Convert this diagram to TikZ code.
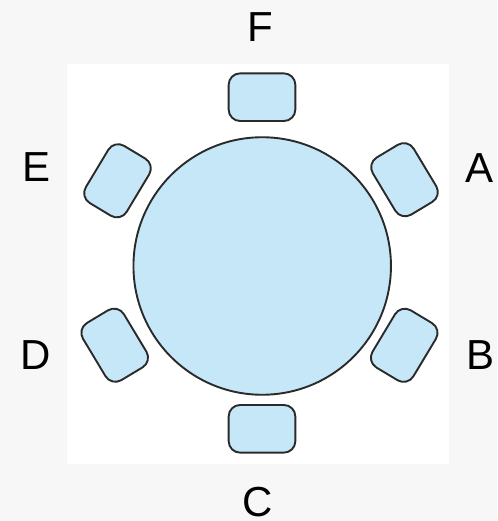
\documentclass[tikz,border=0pt]{standalone}
\usepackage{fontspec}
\setmainfont{Liberation Sans}
\definecolor{bgcol}{HTML}{F7F7F7}
\definecolor{seatfill}{HTML}{C6E7F8}
\definecolor{edgecol}{HTML}{2A2A2A}
\begin{document}
\begin{tikzpicture}[x=1pt,y=-1pt,
  seat/.style={draw=edgecol,fill=seatfill,line width=1.9pt,rectangle,rounded corners=11.5pt,
    minimum width=66.7pt,minimum height=47.7pt,inner sep=0pt},
  tablecirc/.style={draw=edgecol,fill=seatfill,line width=1.9pt,circle,minimum size=257.5pt,inner sep=0pt},
  lbl/.style={font=\fontsize{42}{42}\selectfont,inner sep=0pt,text depth=0pt,text=black}]
\fill[bgcol] (0,0) rectangle (497,521);
\useasboundingbox (0,0) rectangle (497,521);
\fill[white] (67,64) rectangle (449,464);
\node[tablecirc] (table) at (262.2,266) {};
\node[seat] (seatF) at (262,97.2) {};
\node[seat] (seatC) at (262,428.8) {};
\node[seat,rotate=-59] (seatA) at (404.5,179.7) {};
\node[seat,rotate=59] (seatB) at (404.2,345.3) {};
\node[seat,rotate=-59] (seatD) at (114.7,345.2) {};
\node[seat,rotate=59] (seatE) at (117.5,180.8) {};
\node[lbl] (lblF) at (260.5,26.7) {F};
\node[lbl] (lblE) at (37,167.2) {E};
\node[lbl] (lblA) at (479,168) {A};
\node[lbl] (lblD) at (35.5,355.5) {D};
\node[lbl] (lblB) at (480.5,355.5) {B};
\node[lbl] (lblC) at (258,501.5) {C};
\end{tikzpicture}
\end{document}
